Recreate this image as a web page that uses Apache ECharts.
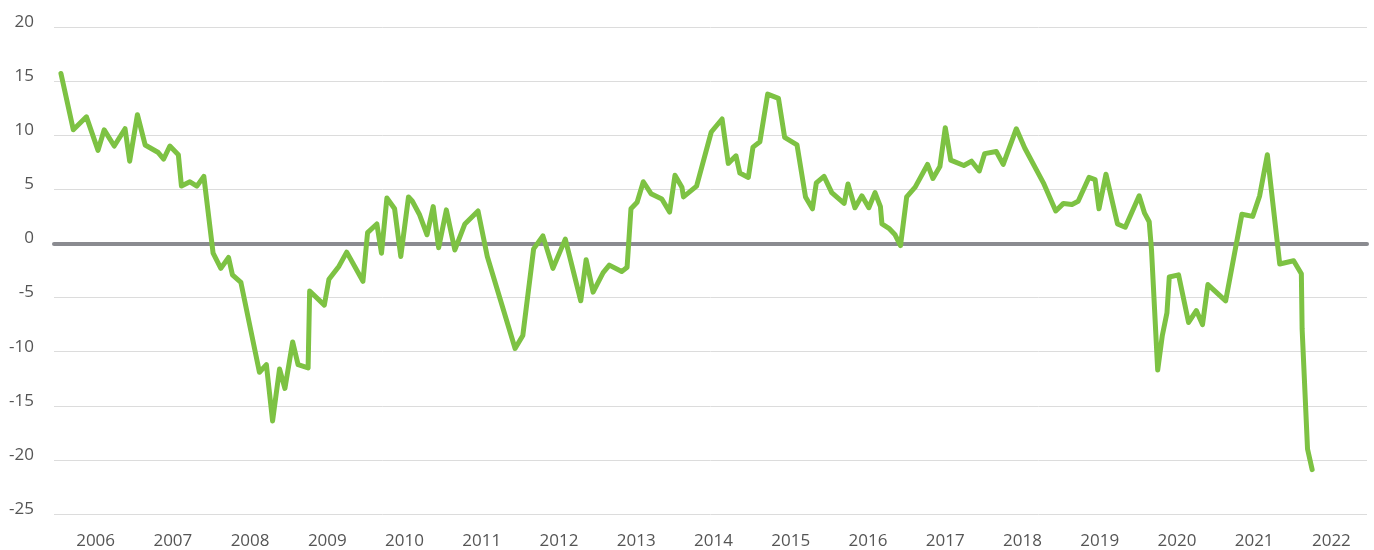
<!DOCTYPE html>
<html>
<head>
<meta charset="utf-8">
<title>Index</title>
<script src="https://cdn.jsdelivr.net/npm/echarts@6/dist/echarts.min.js"></script>
<style>
  html, body { margin: 0; padding: 0; background: #fff; }
  #chart { width: 1374px; height: 550px; }
</style>
</head>
<body>
<div id="chart"></div>
<script>
// x positions as decimal years
var dates = [
  2006.09, 2006.25, 2006.42, 2006.57, 2006.65, 2006.78, 2006.92, 2006.98,
  2007.08, 2007.18, 2007.35, 2007.42, 2007.50, 2007.61, 2007.65, 2007.76, 2007.85, 2007.94,
  2008.06, 2008.16, 2008.26, 2008.31, 2008.42, 2008.66, 2008.75, 2008.83, 2008.92, 2008.99,
  2009.09, 2009.16, 2009.29, 2009.31, 2009.50, 2009.56, 2009.69, 2009.79, 2010.00,
  2010.06, 2010.18, 2010.24, 2010.31, 2010.41, 2010.49, 2010.59, 2010.64, 2010.73, 2010.83, 2010.91, 2010.98,
  2011.08, 2011.19, 2011.32, 2011.49, 2011.61, 2011.97,
  2012.07, 2012.21, 2012.33, 2012.46, 2012.62, 2012.82, 2012.89, 2012.98,
  2013.11, 2013.19, 2013.35, 2013.42, 2013.47, 2013.55, 2013.63, 2013.73, 2013.87, 2013.97,
  2014.04, 2014.13, 2014.15, 2014.32, 2014.51, 2014.65, 2014.73, 2014.83, 2014.88, 2014.99,
  2015.05, 2015.14, 2015.24, 2015.38, 2015.46, 2015.62, 2015.73, 2015.82, 2015.87, 2015.97,
  2016.07, 2016.23, 2016.28, 2016.37, 2016.46, 2016.55, 2016.63, 2016.70, 2016.72, 2016.81, 2016.89, 2016.96,
  2017.04, 2017.15, 2017.31, 2017.38, 2017.47, 2017.54, 2017.61, 2017.78, 2017.88, 2017.98,
  2018.05, 2018.20, 2018.29, 2018.46, 2018.57, 2018.81, 2018.97,
  2019.07, 2019.18, 2019.26, 2019.40, 2019.48, 2019.53, 2019.62, 2019.77, 2019.87,
  2020.05, 2020.12, 2020.18, 2020.21, 2020.29, 2020.35, 2020.41, 2020.44, 2020.56, 2020.69, 2020.79, 2020.87, 2020.94,
  2021.17, 2021.38, 2021.52, 2021.61, 2021.71, 2021.87,
  2022.05, 2022.15, 2022.16, 2022.23, 2022.29
];
var values = [
  15.7, 10.5, 11.7, 8.6, 10.5, 9.0, 10.6, 7.6,
  11.9, 9.1, 8.4, 7.8, 9.0, 8.2, 5.3, 5.7, 5.3, 6.2,
  -0.9, -2.3, -1.3, -2.9, -3.6, -11.9, -11.2, -16.4, -11.6, -13.4,
  -9.1, -11.2, -11.5, -4.4, -5.7, -3.3, -2.1, -0.8, -3.5,
  1.0, 1.8, -0.9, 4.2, 3.2, -1.2, 4.3, 3.9, 2.7, 0.8, 3.4, -0.4,
  3.1, -0.6, 1.8, 3.0, -1.2, -9.7,
  -8.5, -0.5, 0.7, -2.3, 0.4, -5.3, -1.5, -4.5,
  -2.7, -2.0, -2.6, -2.2, 3.2, 3.8, 5.7, 4.6, 4.1, 2.9,
  6.3, 5.2, 4.3, 5.3, 10.3, 11.5, 7.4, 8.1, 6.5, 6.1,
  8.9, 9.4, 13.8, 13.4, 9.8, 9.1, 4.3, 3.2, 5.6, 6.2,
  4.7, 3.7, 5.5, 3.3, 4.4, 3.3, 4.7, 3.4, 1.8, 1.4, 0.8, -0.2,
  4.3, 5.2, 7.3, 6.0, 7.1, 10.7, 7.7, 7.2, 7.6, 6.7,
  8.3, 8.5, 7.3, 10.6, 8.8, 5.6, 3.0,
  3.7, 3.6, 3.9, 6.1, 5.9, 3.2, 6.4, 1.8, 1.5,
  4.4, 2.8, 2.0, -0.6, -11.7, -8.5, -6.4, -3.1, -2.9, -7.3, -6.2, -7.5, -3.8,
  -5.3, 2.7, 2.5, 4.4, 8.2, -1.9,
  -1.6, -2.8, -7.9, -19.0, -20.9
];
var yearLabels = ["2006", "2007", "2008", "2009", "2010", "2011", "2012", "2013", "2014",
  "2015", "2016", "2017", "2018", "2019", "2020", "2021", "2022"];

var points = [];
for (var i = 0; i < dates.length; i++) {
  points.push([dates[i], values[i]]);
}

var myChart = echarts.init(document.getElementById("chart"));
myChart.setOption({
  animation: false,
  grid: {
    left: 54,
    right: 7,
    top: 27,
    bottom: 36
  },
  xAxis: [
    {
      // data axis, its line sits on zero
      type: "value",
      min: 2006,
      max: 2023,
      axisLabel: { show: false },
      axisTick: { show: false },
      splitLine: { show: false },
      axisLine: {
        show: true,
        onZero: true,
        lineStyle: { color: "#8a8b90", width: 4 }
      }
    },
    {
      // year labels
      type: "category",
      position: "bottom",
      data: yearLabels,
      boundaryGap: true,
      axisLine: { show: false, onZero: false },
      axisTick: { show: false },
      axisLabel: {
        color: "#555",
        fontFamily: "Open Sans",
        fontSize: 17,
        margin: 19,
        padding: [0, 0, 0, 6]
      }
    }
  ],
  yAxis: {
    type: "value",
    min: -25,
    max: 20,
    interval: 5,
    axisLine: { show: false },
    axisTick: { show: false },
    axisLabel: {
      color: "#555",
      fontFamily: "Open Sans",
      fontSize: 17,
      margin: 20,
      verticalAlign: "bottom",
      lineHeight: 10
    },
    splitLine: {
      lineStyle: { color: "#dcdcdc", width: 1 }
    }
  },
  series: [
    {
      type: "line",
      xAxisIndex: 0,
      data: points,
      showSymbol: false,
      symbol: "none",
      lineStyle: { color: "#7dc243", width: 5, join: "round", cap: "round" }
    }
  ]
});
</script>
</body>
</html>
